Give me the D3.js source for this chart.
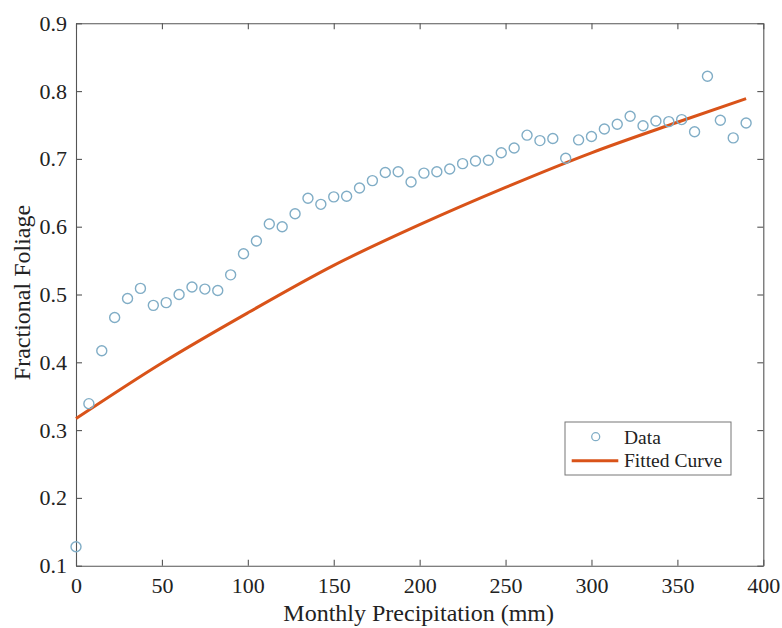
<!DOCTYPE html>
<html lang="en">
<head>
<meta charset="UTF-8">
<title>Fractional Foliage vs Monthly Precipitation</title>
<style>
  body { margin: 0; background: #fff; }
  svg text { font-family: "Liberation Serif", Tinos, "Times New Roman", Times, "DejaVu Serif", "Noto Serif", serif; fill: #222; }
</style>
</head>
<body>
<div id="chart"></div>
<script src="https://d3js.org/d3.v7.min.js"></script>
<script>
// data
var precip = [0, 7.5, 15, 22.5, 30, 37.5, 45, 52.5, 60, 67.5, 75, 82.5, 90, 97.5,
  105, 112.5, 120, 127.5, 135, 142.5, 150, 157.5, 165, 172.5, 180, 187.5, 195,
  202.5, 210, 217.5, 225, 232.5, 240, 247.5, 255, 262.5, 270, 277.5, 285, 292.5,
  300, 307.5, 315, 322.5, 330, 337.5, 345, 352.5, 360, 367.5, 375, 382.5, 390];

var foliage = [0.128, 0.339, 0.417, 0.466, 0.494, 0.509, 0.484, 0.488, 0.500, 0.511,
  0.508, 0.506, 0.529, 0.560, 0.579, 0.604, 0.600, 0.619, 0.642, 0.633, 0.644,
  0.645, 0.657, 0.668, 0.680, 0.681, 0.666, 0.679, 0.681, 0.685, 0.693, 0.697,
  0.698, 0.709, 0.716, 0.735, 0.727, 0.730, 0.701, 0.728, 0.733, 0.744, 0.751,
  0.763, 0.749, 0.756, 0.755, 0.758, 0.740, 0.822, 0.757, 0.731, 0.753];

// fitted curve
var fitX = [0, 50, 100, 150, 200, 250, 300, 350, 390];
var fitY = [0.317, 0.399, 0.473, 0.543, 0.603, 0.658, 0.709, 0.754, 0.789];

var xTicks = [0, 50, 100, 150, 200, 250, 300, 350, 400];
var yTicks = [0.1, 0.2, 0.3, 0.4, 0.5, 0.6, 0.7, 0.8, 0.9];

var legendLabels = ["Data", "Fitted Curve"];

var margin = {top: 23.3, left: 76, right: 782 - 763.3, bottom: 628 - 565.7};
var width = 782 - margin.left - margin.right;
var height = 628 - margin.top - margin.bottom;

var serif = "'Liberation Serif', Tinos, 'Times New Roman', Times, 'DejaVu Serif', 'Noto Serif', serif";

var svg = d3.select("#chart")
  .append("svg")
    .attr("width", 782)
    .attr("height", 628)
  .append("g")
    .attr("transform", "translate(" + margin.left + "," + margin.top + ")");

var x = d3.scaleLinear().domain([0, 400]).range([0, width]);
var y = d3.scaleLinear().domain([0.1, 0.9]).range([height, 0]);

var axisColor = "#555";

function styleAxis(g) {
  g.select(".domain").attr("stroke", axisColor).attr("stroke-width", 1.1);
  g.selectAll(".tick line").attr("stroke", axisColor).attr("stroke-width", 1.1);
  g.selectAll(".tick text").attr("fill", "#222").style("font-size", "22px")
    .style("font-family", serif);
}

// bottom and left axes with labels, ticks pointing inward
svg.append("g")
  .attr("transform", "translate(0," + height + ")")
  .call(d3.axisBottom(x).tickValues(xTicks).tickSizeInner(-6).tickSizeOuter(0).tickPadding(12))
  .call(styleAxis);

svg.append("g")
  .call(d3.axisLeft(y).tickValues(yTicks).tickFormat(d3.format(".1f"))
    .tickSizeInner(-6).tickSizeOuter(0).tickPadding(9))
  .call(styleAxis);

// top and right: ticks only (box)
svg.append("g")
  .call(d3.axisTop(x).tickValues(xTicks).tickFormat("").tickSizeInner(-6).tickSizeOuter(0))
  .call(styleAxis);

svg.append("g")
  .attr("transform", "translate(" + width + ",0)")
  .call(d3.axisRight(y).tickValues(yTicks).tickFormat("").tickSizeInner(-6).tickSizeOuter(0))
  .call(styleAxis);

// axis labels
svg.append("text")
  .attr("x", width / 2 - 1)
  .attr("y", height + 55)
  .attr("text-anchor", "middle")
  .style("font-family", serif)
  .style("font-size", "24px")
  .text("Monthly Precipitation (mm)");

svg.append("text")
  .attr("transform", "rotate(-90)")
  .attr("x", -height / 2 + 2)
  .attr("y", -46)
  .attr("text-anchor", "middle")
  .style("font-family", serif)
  .style("font-size", "24px")
  .text("Fractional Foliage");

var dotColor = "#80adc6";
var fitColor = "#d95319";

// fitted curve
var fitData = fitX.map(function (d, i) { return {x: d, y: fitY[i]}; });
var line = d3.line()
  .x(function (d) { return x(d.x); })
  .y(function (d) { return y(d.y); })
  .curve(d3.curveMonotoneX);

svg.append("path")
  .datum(fitData)
  .attr("fill", "none")
  .attr("stroke", fitColor)
  .attr("stroke-width", 3)
  .attr("d", line);

// data points
var pts = precip.map(function (d, i) { return {x: d, y: foliage[i]}; });
svg.append("g")
  .selectAll("circle")
  .data(pts)
  .enter()
  .append("circle")
    .attr("cx", function (d) { return x(d.x); })
    .attr("cy", function (d) { return y(d.y); })
    .attr("r", 5)
    .attr("fill", "none")
    .attr("stroke", dotColor)
    .attr("stroke-width", 1.4);

// legend
var lg = svg.append("g")
  .attr("transform", "translate(" + (565 - margin.left) + "," + (422 - margin.top) + ")");

lg.append("rect")
  .attr("width", 166)
  .attr("height", 53)
  .attr("fill", "#fff")
  .attr("stroke", "#777")
  .attr("stroke-width", 1);

lg.append("circle")
  .attr("cx", 30.7)
  .attr("cy", 14.7)
  .attr("r", 4)
  .attr("fill", "none")
  .attr("stroke", dotColor)
  .attr("stroke-width", 1.3);

lg.append("line")
  .attr("x1", 6.7).attr("x2", 53.3)
  .attr("y1", 38.7).attr("y2", 38.7)
  .attr("stroke", fitColor)
  .attr("stroke-width", 3);

lg.selectAll("text.lab")
  .data(legendLabels)
  .enter()
  .append("text")
    .attr("class", "lab")
    .attr("x", 59)
    .attr("y", function (d, i) { return 21.5 + i * 23; })
    .style("font-family", serif)
    .style("font-size", "19.5px")
    .text(function (d) { return d; });
</script>
</body>
</html>
